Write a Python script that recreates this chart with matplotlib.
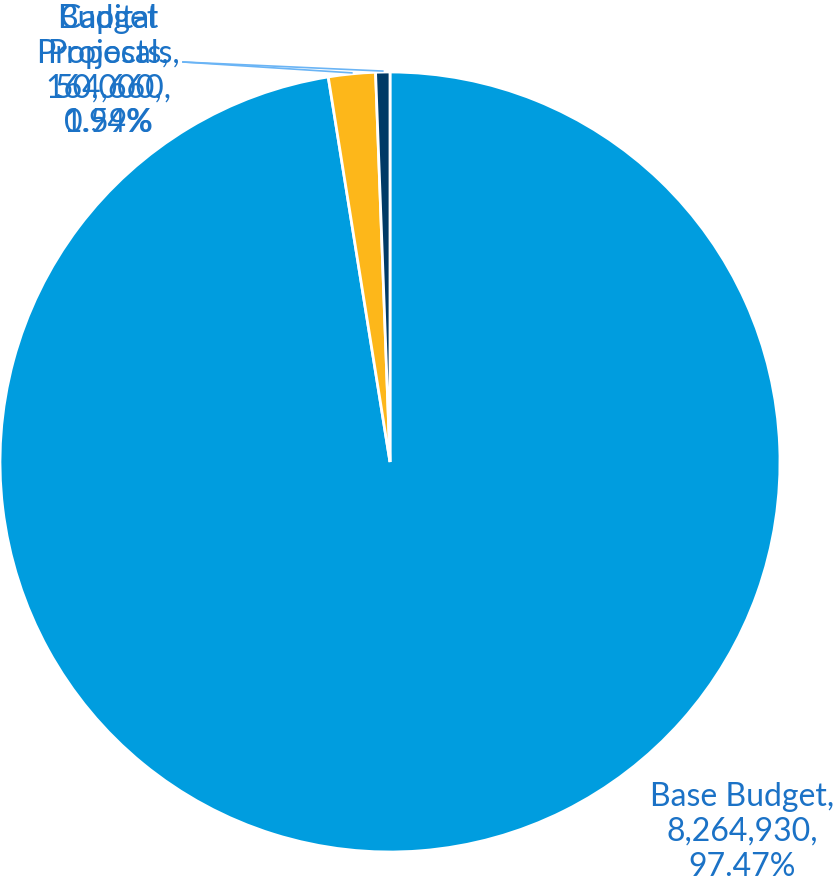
import matplotlib
matplotlib.use('Agg')
import matplotlib.pyplot as plt
import numpy as np

labels = ['Base Budget', 'Capital Projects', 'Budget Proposals']
values = [8264930, 164660, 50000]
colors = ['#009ddf', '#fdb71a', '#003a66']

text_color = '#1b72c6'
line_color = '#6ab4f5'

plt.rcParams['font.family'] = ['Lato', 'DejaVu Sans']

fig = plt.figure(figsize=(8.33, 8.83), dpi=100)
ax = fig.add_axes([0, 0, 1, 1])

cx, cy, r = 390, 421, 390
wedges, _ = ax.pie(values, colors=colors, startangle=90, counterclock=False,
                   center=(cx, cy), radius=r, frame=True,
                   wedgeprops=dict(edgecolor='white', linewidth=2))
ax.set_xlim(0, 833)
ax.set_ylim(0, 883)
ax.set_aspect('equal')
ax.axis('off')

total = sum(values)
pcts = [v / total * 100 for v in values]


def label_text(name, v, p, split):
    head = name.replace(' ', '\n') + ',' if split else name + ','
    return f'{head}\n{v:,},\n{p:.2f}%'


# Base Budget label, bottom right
ax.text(742, 51, label_text(labels[0], values[0], pcts[0], False), ha='center', va='center',
        color=text_color, fontsize=23, linespacing=1.2)

# small slices: labels collide at top left (as in the original), with leader lines
for i in (1, 2):
    theta1, theta2 = wedges[i].theta1, wedges[i].theta2
    mid = np.deg2rad((theta1 + theta2) / 2)
    ex, ey = cx + r * np.cos(mid), cy + r * np.sin(mid)
    ax.plot([183, ex], [821, ey + 1], color=line_color, linewidth=1.2)
    ax.text(108, 812, label_text(labels[i], values[i], pcts[i], True), ha='center', va='center',
            color=text_color, fontsize=23, linespacing=1.2)

fig.savefig('out.png', dpi=100)
